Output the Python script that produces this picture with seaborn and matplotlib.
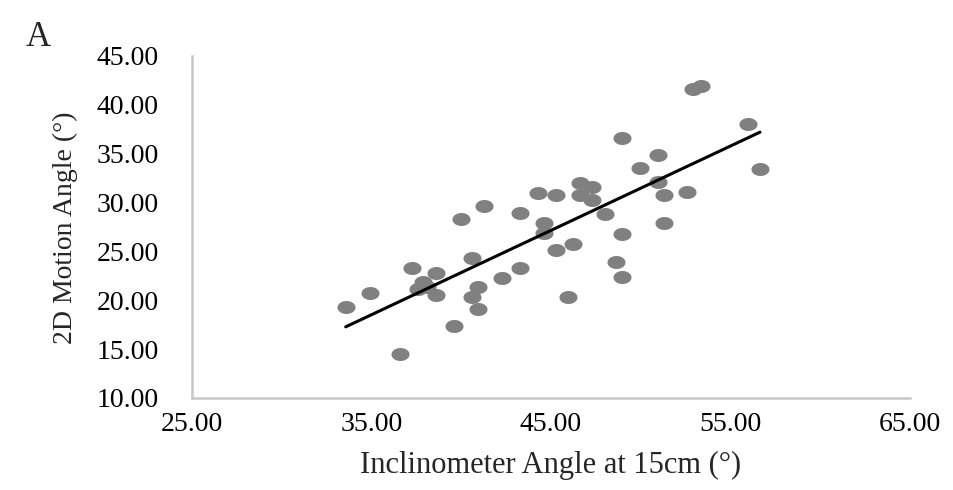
import numpy as np
import matplotlib
matplotlib.use('Agg')
import matplotlib.pyplot as plt
from matplotlib.path import Path
from matplotlib.ticker import FormatStrFormatter
import seaborn as sns

# Données
inclinometre = [33.56, 34.92, 36.59, 37.24, 37.89, 37.61, 38.59, 38.59, 38.08, 39.60,
                39.97, 40.62, 40.95, 40.58, 40.95, 41.27, 42.25, 43.27, 43.27, 44.26,
                44.63, 44.63, 45.28, 45.28, 45.93, 46.24, 46.62, 47.27, 46.62, 47.27,
                48.01, 48.94, 48.94, 48.62, 48.94, 49.96, 50.94, 50.94, 51.31, 51.31,
                52.58, 52.89, 53.34, 55.96, 56.64]
angle_2d = [19.35, 20.72, 14.50, 23.34, 21.90, 21.13, 22.76, 20.54, 21.39, 17.37,
            28.32, 24.30, 21.39, 20.37, 19.08, 29.68, 22.25, 28.90, 23.34, 31.01,
            27.94, 26.86, 30.78, 25.15, 20.31, 25.76, 31.98, 31.63, 30.78, 30.27,
            28.83, 36.58, 26.79, 23.89, 22.42, 33.51, 34.87, 32.08, 30.78, 27.88,
            31.12, 41.63, 41.97, 38.01, 33.41]
x_ticks = [25, 35, 45, 55, 65]
y_ticks = [10, 15, 20, 25, 30, 35, 40, 45]

sns.set_style('white')
plt.rcParams['font.family'] = ['Liberation Serif', 'DejaVu Serif']

# marqueur elliptique (image étirée horizontalement)
t = np.linspace(0, 2 * np.pi, 60)
ellipse = Path(np.column_stack([np.cos(t), 0.72 * np.sin(t)]), closed=True)

fig = plt.figure(figsize=(9.54, 4.9), dpi=100)
ax = fig.add_axes([0.2013, 0.1878, 0.7526, 0.698])

sns.regplot(x=inclinometre, y=angle_2d, ax=ax, ci=None, marker=ellipse,
            scatter_kws={'s': 169, 'color': '#808080', 'linewidths': 0, 'alpha': 1},
            line_kws={'color': 'black', 'lw': 2.2})

ax.set_xlim(25, 65)
ax.set_ylim(10, 45)
ax.set_xticks(x_ticks)
ax.set_yticks(y_ticks)
ax.xaxis.set_major_formatter(FormatStrFormatter('%.2f'))
ax.yaxis.set_major_formatter(FormatStrFormatter('%.2f'))
ax.tick_params(axis='x', length=0, pad=10, labelsize=20, colors='black')
ax.tick_params(axis='y', length=0, pad=24, labelsize=20, colors='black')

for s in ['top', 'right']:
    ax.spines[s].set_visible(False)
for s in ['left', 'bottom']:
    ax.spines[s].set_color('#c8c8c8')
    ax.spines[s].set_linewidth(1.8)

ax.set_xlabel('Inclinometer Angle at 15cm (°)', fontsize=22)
ax.set_ylabel('2D Motion Angle (°)', fontsize=20)
ax.xaxis.set_label_coords(0.5, -0.155)
ax.yaxis.set_label_coords(-0.159, 0.497)

fig.text(38 / 954, 1 - 38 / 490, 'A', fontsize=25, ha='center', va='center')

plt.savefig('out.png', dpi=100)
plt.close()
